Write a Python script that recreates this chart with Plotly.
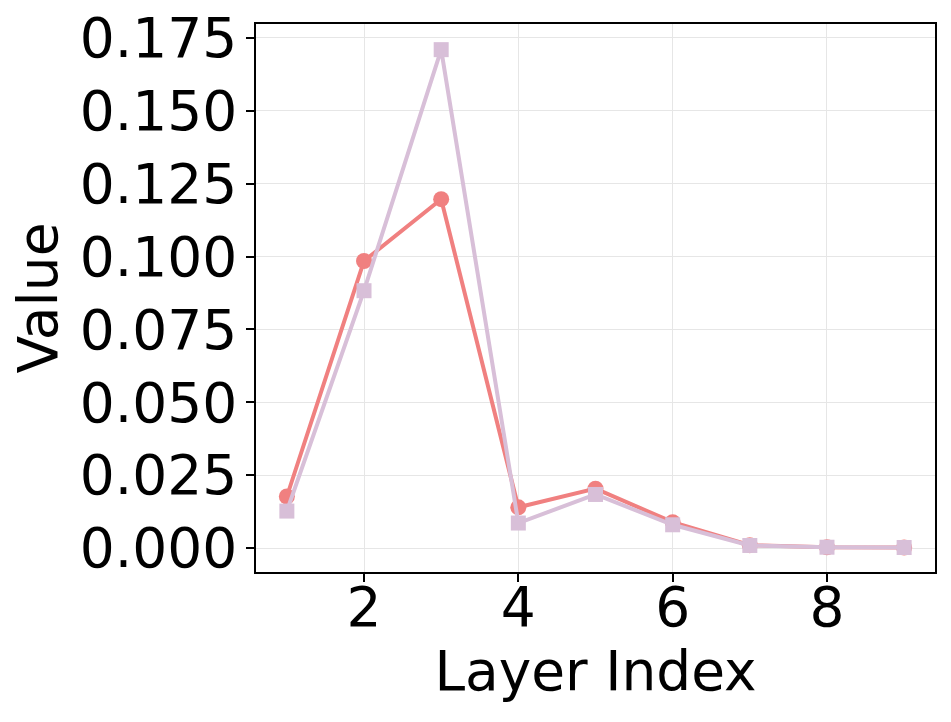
import plotly.graph_objects as go

layers = [1, 2, 3, 4, 5, 6, 7, 8, 9]
series_a = [0.0177, 0.0985, 0.1197, 0.0140, 0.0204, 0.0089, 0.0010, 0.0003, 0.0002]
series_b = [0.0127, 0.0883, 0.1710, 0.0086, 0.0184, 0.0080, 0.0009, 0.0003, 0.0002]
y_ticks = [0.0, 0.025, 0.05, 0.075, 0.1, 0.125, 0.15, 0.175]
y_tick_text = ["0.000", "0.025", "0.050", "0.075", "0.100", "0.125", "0.150", "0.175"]
x_ticks = [2, 4, 6, 8]

fig = go.Figure()
fig.add_trace(go.Scatter(x=layers, y=series_a, mode="lines+markers",
                         line=dict(color="#F08080", width=4),
                         marker=dict(symbol="circle", size=16, color="#F08080")))
fig.add_trace(go.Scatter(x=layers, y=series_b, mode="lines+markers",
                         line=dict(color="#D8BFD8", width=4),
                         marker=dict(symbol="square", size=15, color="#D8BFD8")))

font = "DejaVu Sans"
fig.update_layout(
    width=951, height=722,
    margin=dict(l=256, r=16, t=24, b=150, autoexpand=False),
    paper_bgcolor="white", plot_bgcolor="white",
    showlegend=False,
    font=dict(family=font, color="black", size=55),
)
fig.update_xaxes(range=[0.6, 9.4], tickvals=x_ticks, ticks="outside", ticklen=8, tickwidth=1.5,
                 tickcolor="black", showline=True, linecolor="black", linewidth=1.5, mirror=True,
                 showgrid=True, gridcolor="#e6e6e6", gridwidth=1, zeroline=False, automargin=False,
                 tickfont=dict(size=55, family=font), ticklabelstandoff=-22,
                 ticklabeloverflow="allow",
                 title=dict(text="Layer Index", font=dict(size=55, family=font), standoff=12))
fig.update_yaxes(range=[-0.0082, 0.1798], tickvals=y_ticks, ticktext=y_tick_text, ticks="outside",
                 ticklen=8, tickwidth=1.5, tickcolor="black", showline=True, linecolor="black",
                 linewidth=1.5, mirror=True, showgrid=True, gridcolor="#e6e6e6", gridwidth=1,
                 zeroline=False, automargin=False, tickfont=dict(size=55, family=font),
                 ticklabelstandoff=-2, ticklabeloverflow="allow",
                 title=dict(text="Value", font=dict(size=55, family=font), standoff=5))

fig.write_html("out.html", config={"displayModeBar": False},
               post_script="document.body.style.margin='0px';")
